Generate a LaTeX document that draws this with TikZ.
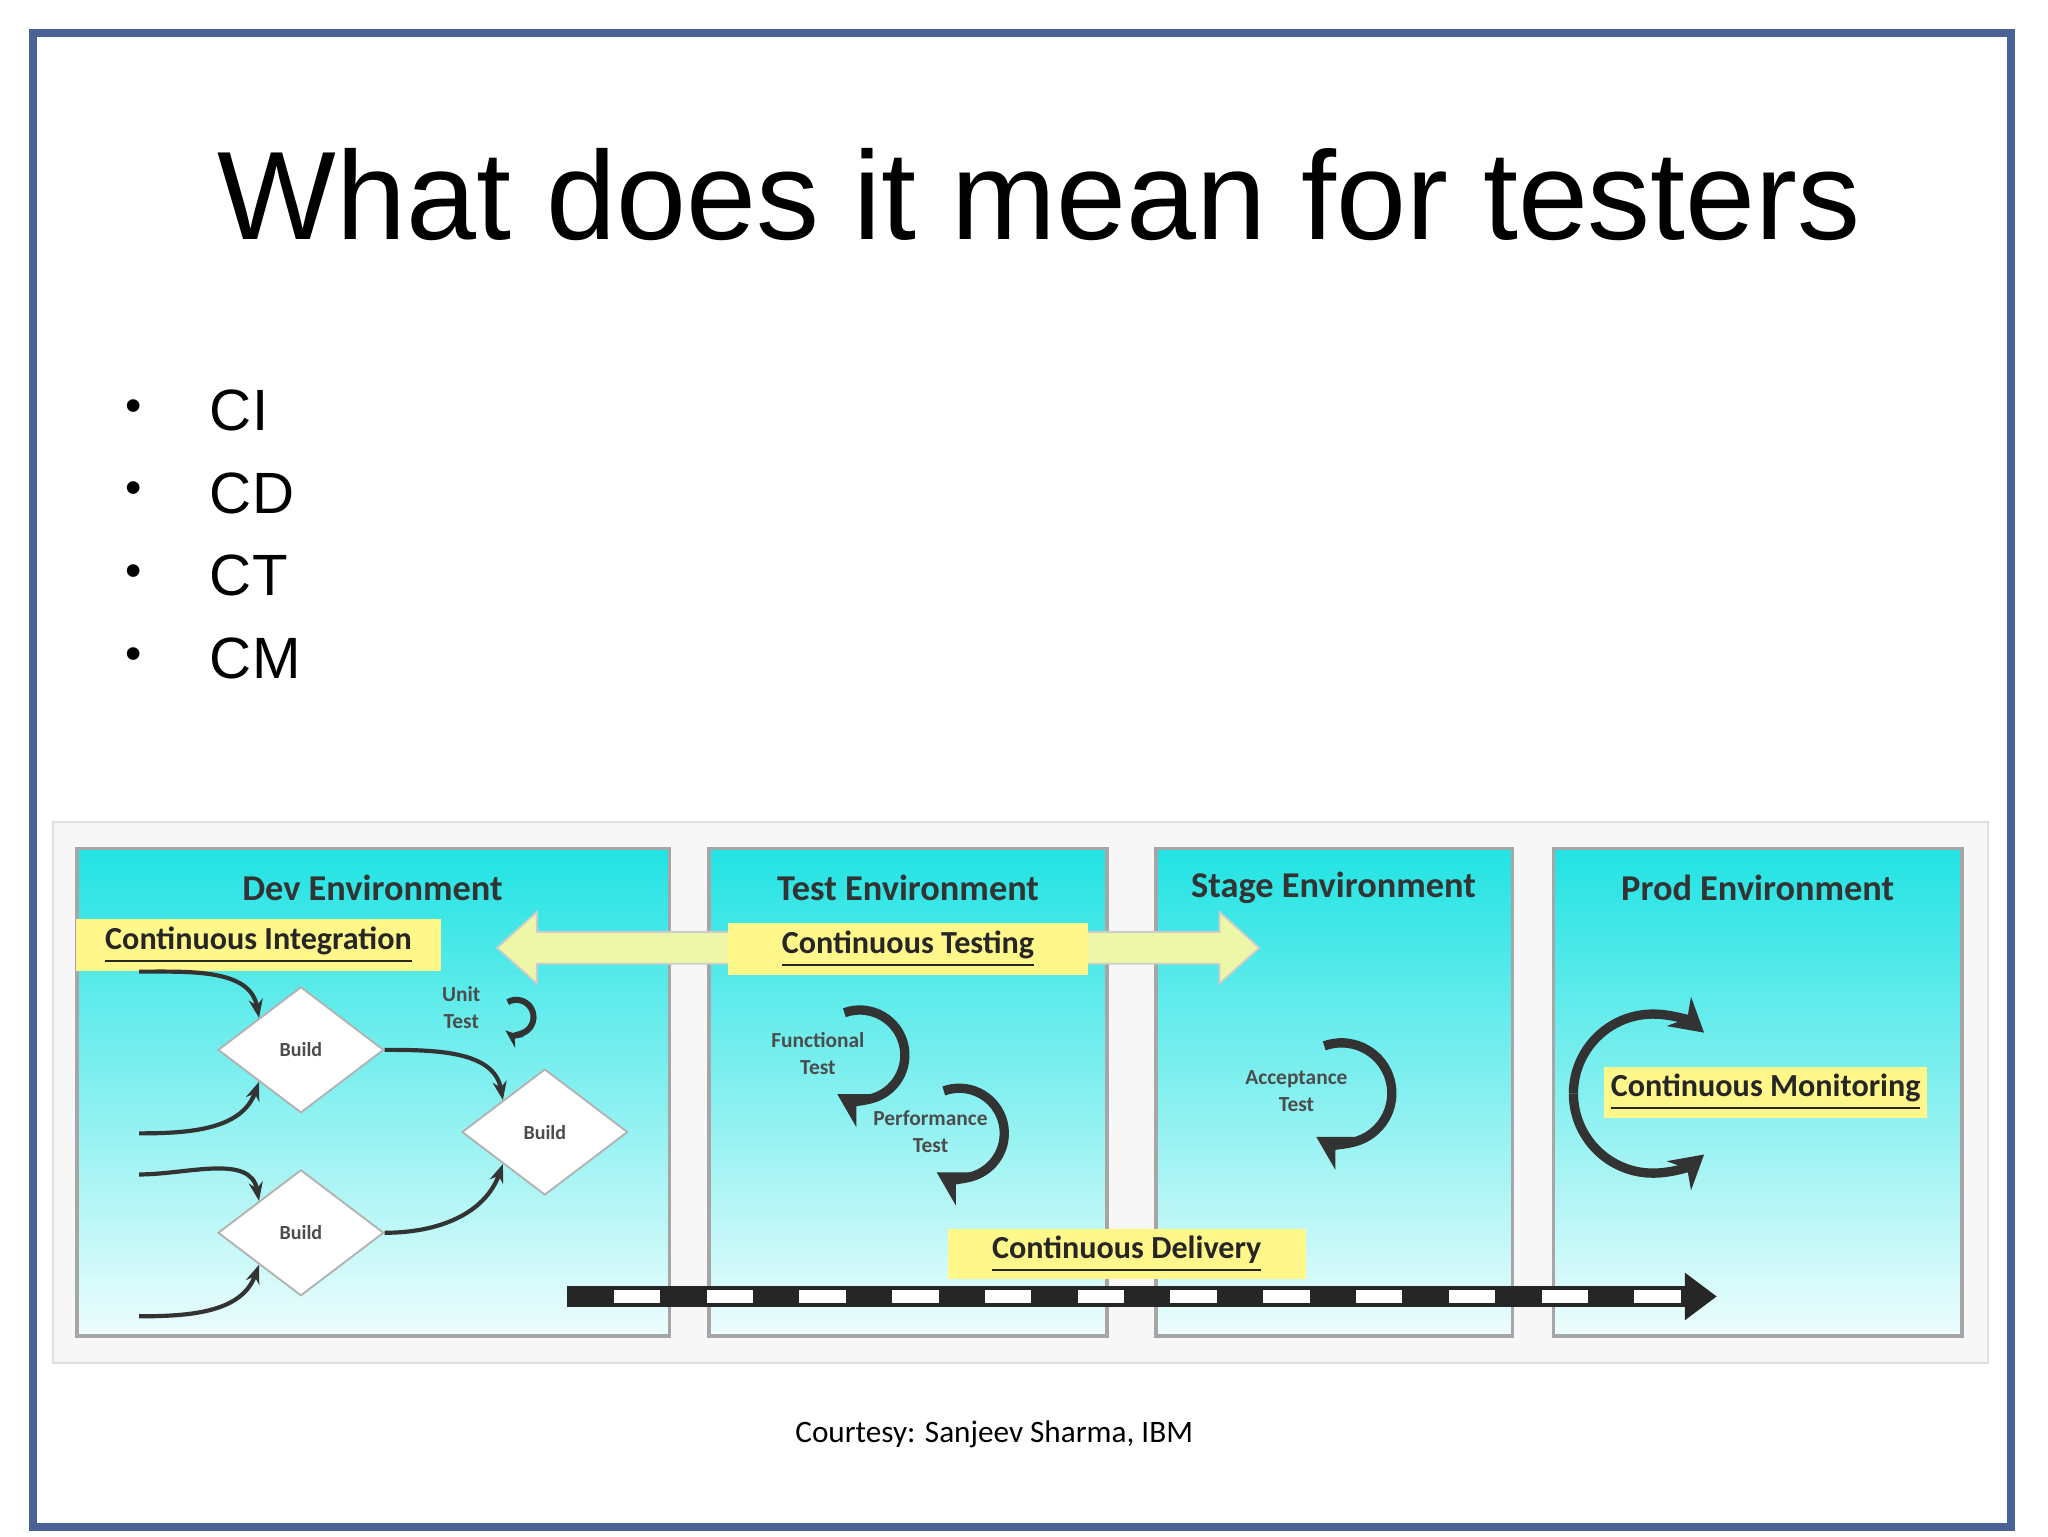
\documentclass[tikz,border=0pt]{standalone}
\usepackage{fontspec}
\setmainfont{Liberation Sans}
\newfontfamily\carl{Carlito}
\usetikzlibrary{shapes.geometric,arrows.meta,calc}
\definecolor{frame}{HTML}{4A6396}
\definecolor{cy}{HTML}{22E3E3}
\definecolor{hl}{HTML}{FFF78A}
\definecolor{arr}{HTML}{EEF7A8}
\tikzset{x=0.1mm,y=-0.1mm,
env/.style={draw=gray!70,line width=0.8pt,top color=cy,bottom color=cy!8,middle color=cy!55},
hdr/.style={font=\carl\bfseries\fontsize{7.8}{9}\selectfont,text=black!80},
hlab/.style={fill=hl,inner sep=1.5pt,font=\carl\bfseries\fontsize{6.9}{8}\selectfont,text=black!85},
dia/.style={diamond,draw=gray!60,fill=white,minimum width=1.25cm,minimum height=0.95cm,aspect=1.3,inner sep=0pt,font=\carl\bfseries\fontsize{4.3}{5}\selectfont,text=black!70},
small/.style={font=\carl\bfseries\fontsize{4.6}{5.8}\selectfont,text=black!70,align=center},
carr/.style={draw=black!80,line width=0.9pt,-{Stealth[length=4pt]}},
loop/.style={draw=black!80,line width=2pt,-{Stealth[length=7pt,width=8pt]}}}
\begin{document}
\begin{tikzpicture}
\useasboundingbox (0,0) rectangle (1545,1159);
\fill[white] (0,0) rectangle (1545,1159);
\draw[frame,line width=1.6pt] (25,25) rectangle (1517,1152);
\node[font=\fontsize{27}{32}\selectfont] (title) at (784,147) {What does it mean for testers};
\foreach \t/\y in {CI/310,CD/372,CT/434,CM/497}{
  \node[font=\fontsize{10}{12}\selectfont] (b\t) at (101,\y) {•};
  \node[anchor=west,font=\fontsize{12.5}{15}\selectfont] (l\t) at (146,\y) {\t};}
% panel
\fill[gray!6] (40,620) rectangle (1500,1028);
\draw[gray!25] (40,620) rectangle (1500,1028);
\draw[env] (58,640) rectangle (505,1008);
\draw[env] (535,640) rectangle (835,1008);
\draw[env] (872,640) rectangle (1141,1008);
\draw[env] (1172,640) rectangle (1480,1008);
\node[hdr] (hd) at (281,670) {Dev Environment};
\node[hdr] (ht) at (685,670) {Test Environment};
\node[hdr] (hs) at (1006,670) {Stage Environment};
\node[hdr] (hp) at (1326,670) {Prod Environment};
% double arrow
\fill[arr,draw=gray!40] (375,715) -- (405,688) -- (405,703) -- (920,703) -- (920,688) -- (950,715) -- (920,742) -- (920,727) -- (405,727) -- (405,742) -- cycle;
\node[hlab,minimum width=2.75cm] (ci) at (195,713) {\underline{Continuous Integration}};
\node[hlab,minimum width=2.72cm] (ct) at (685,716) {\underline{Continuous Testing}};
\node[hlab] (cm) at (1332,824) {\underline{Continuous Monitoring}};
\node[hlab,minimum width=2.7cm] (cd) at (850,946) {\underline{Continuous Delivery}};
% dev
\node[dia] (d1) at (227,792) {Build};
\node[dia] (d2) at (411,854) {Build};
\node[dia] (d3) at (227,930) {Build};
\coordinate (s1) at (105,733);
\coordinate (s2) at (105,855);
\coordinate (s3) at (105,886);
\coordinate (s4) at (105,993);
\draw[carr] (s1) to[out=0,in=100] (d1.north west);
\draw[carr] (s2) to[out=0,in=-110] (d1.south west);
\draw[carr] (s3) to[out=0,in=100] (d3.north west);
\draw[carr] (s4) to[out=0,in=-110] (d3.south west);
\draw[carr] (d1.east) to[out=0,in=100] (d2.north west);
\draw[carr] (d3.east) to[out=0,in=-110] (d2.south west);
\node[small] (ut) at (348,760) {Unit\\Test};
\draw[carr,line width=1.3pt] (383,756) arc[start angle=-120,end angle=130,radius=13];
% test
\node[small] (ft) at (617,795) {Functional\\Test};
\draw[loop] (637,764) arc[start angle=-110,end angle=120,radius=34];
\node[small] (pt) at (702,854) {Performance\\Test};
\draw[loop] (712,823) arc[start angle=-110,end angle=120,radius=34];
\node[small] (at) at (978,823) {Acceptance\\Test};
\draw[loop] (999,789) arc[start angle=-110,end angle=120,radius=38];
% prod
\coordinate (pc) at (1247,825);
\draw[loop] ($(pc)+(-60,0)$) arc[start angle=180,end angle=310,radius=60];
\draw[loop] ($(pc)+(-60,0)$) arc[start angle=180,end angle=50,radius=60];
% delivery
\coordinate (ds) at (428,978);
\coordinate (de) at (1295,978);
\fill[black!85] ($(ds)+(0,-8)$) rectangle ($(de)+(-22,8)$);
\foreach \i in {0,...,11}{
  \fill[white] ($(ds)+(35+\i*70,-5)$) rectangle ($(ds)+(70+\i*70,5)$);}
\fill[black!85] (de) -- ++(-24,-18) -- ++(0,36) -- cycle;
\node[font=\fontsize{6.7}{8}\selectfont\carl] (court) at (750,1082) {Courtesy: Sanjeev Sharma, IBM};
\end{tikzpicture}
\end{document}
